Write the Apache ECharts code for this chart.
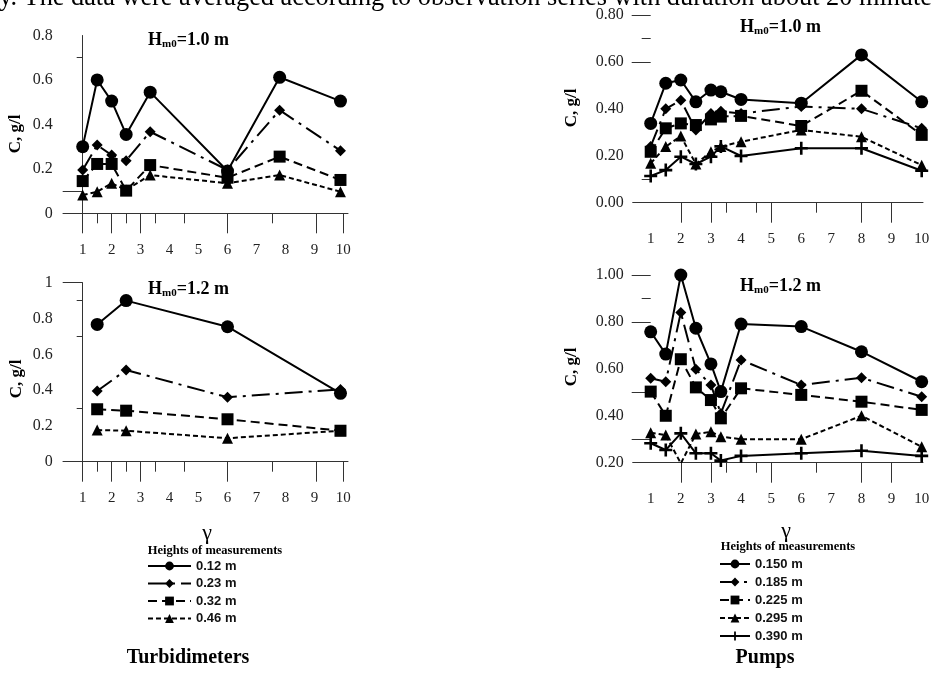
<!DOCTYPE html>
<html><head><meta charset="utf-8">
<script src="https://cdn.jsdelivr.net/npm/echarts@6/dist/echarts.min.js"></script>
<style>html,body{margin:0;padding:0;background:#fff}#c{width:933px;height:684px}</style>
</head><body><div id="c"></div>
<script>
// ---------------- data ----------------
const turbNames = ['0.12 m', '0.23 m', '0.32 m', '0.46 m'];
const pumpNames = ['0.150 m', '0.185 m', '0.225 m', '0.295 m', '0.390 m'];

// Turbidimeters, Hm0 = 1.0 m
const gammaTurbH10 = [1, 1.5, 2, 2.5, 3.33, 6, 7.8, 9.9];
const turbH10_012 = [0.30, 0.60, 0.505, 0.355, 0.545, 0.19, 0.612, 0.505];
const turbH10_023 = [0.195, 0.307, 0.262, 0.237, 0.367, 0.195, 0.464, 0.282];
const turbH10_032 = [0.145, 0.222, 0.222, 0.102, 0.217, 0.16, 0.255, 0.15];
const turbH10_046 = [0.082, 0.097, 0.135, 0.105, 0.172, 0.135, 0.172, 0.097];

// Turbidimeters, Hm0 = 1.2 m
const gammaTurbH12 = [1.5, 2.5, 6, 9.9];
const turbH12_012 = [0.767, 0.90, 0.754, 0.382];
const turbH12_023 = [0.395, 0.512, 0.36, 0.404];
const turbH12_032 = [0.293, 0.285, 0.237, 0.173];
const turbH12_046 = [0.177, 0.173, 0.131, 0.173];

// Pumps (both wave heights)
const gammaPumps = [1, 1.5, 2, 2.5, 3, 3.33, 4, 6, 8, 10];
const pumpH10_150 = [0.338, 0.509, 0.523, 0.43, 0.48, 0.473, 0.44, 0.424, 0.63, 0.43];
const pumpH10_185 = [0.24, 0.40, 0.437, 0.31, 0.38, 0.39, 0.38, 0.41, 0.40, 0.317];
const pumpH10_225 = [0.217, 0.317, 0.338, 0.331, 0.355, 0.367, 0.37, 0.327, 0.477, 0.289];
const pumpH10_295 = [0.168, 0.239, 0.284, 0.165, 0.217, 0.239, 0.26, 0.31, 0.281, 0.16];
const pumpH10_390 = [0.114, 0.139, 0.196, 0.165, 0.196, 0.24, 0.199, 0.232, 0.232, 0.136];

const pumpH12_150 = [0.758, 0.663, 1.0, 0.773, 0.621, 0.503, 0.791, 0.78, 0.673, 0.545];
const pumpH12_185 = [0.56, 0.545, 0.84, 0.598, 0.531, 0.41, 0.638, 0.531, 0.562, 0.481];
const pumpH12_225 = [0.503, 0.40, 0.641, 0.521, 0.467, 0.389, 0.517, 0.489, 0.46, 0.425];
const pumpH12_295 = [0.328, 0.318, 0.197, 0.322, 0.332, 0.311, 0.30, 0.30, 0.40, 0.268];
const pumpH12_390 = [0.283, 0.254, 0.325, 0.24, 0.24, 0.209, 0.229, 0.24, 0.251, 0.229];

// tick labels / tick marks
const xTickLabels = [1, 2, 3, 4, 5, 6, 7, 8, 9, 10];
const yLabelsTurbH10 = [0, 0.2, 0.4, 0.6, 0.8];
const yLabelsTurbH12 = [0, 0.2, 0.4, 0.6, 0.8, 1];
const yLabelsPumpH10 = [0, 0.2, 0.4, 0.6, 0.8];
const yLabelsPumpH12 = [0.2, 0.4, 0.6, 0.8, 1.0];
const xTicksLongTurb = [1, 2, 3, 6, 9.05, 10];
const xTicksShortTurb = [1.5, 2.5, 3.5, 4.5, 7.55];
const xTicksLongPump = [2, 3, 5, 8, 9];
const xTicksShortPump = [3.5, 4.5, 6.5];

// ---------------- rendering ----------------
const SERIF = '"Liberation Serif","Times New Roman",serif';
const SANS = '"Liberation Sans",Arial,sans-serif';
const INK = '#000';
const AXIS = '#333';
const LABEL = '#222';

const crossPath = 'path://M4,0h2v4h4v2h-4v4h-2v-4h-4v-2h4z';
const styles = [
  {symbol: 'circle', size: 13, dash: 'solid', w: 2},
  {symbol: 'diamond', size: 11, dash: [18, 6, 3, 6], w: 2},
  {symbol: 'rect', size: 12, dash: [9, 5], w: 2},
  {symbol: 'triangle', size: 11, dash: [5, 3], w: 2},
  {symbol: crossPath, size: 13, dash: 'solid', w: 2}
];

const fmtPlain = v => String(v);
const fmt2 = v => v.toFixed(2);

const panels = [
  {grid: {left: 63, top: 35.5, width: 285, height: 177.8}, x: [0.32, 10.16], y: [0, 0.8], yOffset: -19.7, yLine: true,
   yLabels: yLabelsTurbH10, yLong: [0.1], yShort: [0.7], yLongLen: 20, yShortLen: 6, yMargin: 30,
   xLong: xTicksLongTurb, xShort: xTicksShortTurb, fmt: fmtPlain},
  {grid: {left: 63, top: 282.7, width: 285, height: 179}, x: [0.32, 10.16], y: [0, 1], yOffset: -19.7, yLine: true,
   yLabels: yLabelsTurbH12, yLong: [1], yShort: [0.3, 0.7, 0.9], yLongLen: 20, yShortLen: 6, yMargin: 30,
   xLong: xTicksLongTurb, xShort: xTicksShortTurb, fmt: fmtPlain},
  {grid: {left: 632.7, top: 15, width: 290.3, height: 187.7}, x: [0.402, 10.043], y: [0, 0.8], yOffset: -18, yLine: false,
   yLabels: yLabelsPumpH10, yLong: [0.6, 0.8], yShort: [0.1, 0.7], yLongLen: 19, yShortLen: 9, yMargin: 27,
   xLong: xTicksLongPump, xShort: xTicksShortPump, fmt: fmt2},
  {grid: {left: 632.7, top: 275, width: 290.3, height: 187.7}, x: [0.402, 10.043], y: [0.2, 1.0], yOffset: -18, yLine: false,
   yLabels: yLabelsPumpH12, yLong: [0.3, 0.5, 0.8, 1.0], yShort: [0.9], yLongLen: 19, yShortLen: 9, yMargin: 27,
   xLong: xTicksLongPump, xShort: xTicksShortPump, fmt: fmt2}
];

const grid = [], xAxis = [], yAxis = [];
panels.forEach((p, i) => {
  grid.push(Object.assign({containLabel: false}, p.grid));
  xAxis.push({type: 'value', gridIndex: i, position: 'bottom', min: p.x[0], max: p.x[1],
    axisLine: {show: true, onZero: false, lineStyle: {color: AXIS, width: 1}},
    axisTick: {show: true, customValues: p.xLong, length: 20, lineStyle: {color: AXIS, width: 1}},
    axisLabel: {show: true, customValues: xTickLabels, margin: 29, fontFamily: SERIF, fontSize: 15, color: LABEL},
    splitLine: {show: false}});
  xAxis.push({type: 'value', gridIndex: i, position: 'bottom', min: p.x[0], max: p.x[1],
    axisLine: {show: false, onZero: false},
    axisTick: {show: true, customValues: p.xShort, length: 10, lineStyle: {color: AXIS, width: 1}},
    axisLabel: {show: false}, splitLine: {show: false}});
  yAxis.push({type: 'value', gridIndex: i, position: 'left', offset: p.yOffset, min: p.y[0], max: p.y[1],
    axisLine: {show: p.yLine, onZero: false, lineStyle: {color: AXIS, width: 1}},
    axisTick: {show: true, customValues: p.yLong, length: p.yLongLen, lineStyle: {color: AXIS, width: 1}},
    axisLabel: {show: true, customValues: p.yLabels, margin: p.yMargin, formatter: p.fmt, fontFamily: SERIF, fontSize: 16, color: LABEL},
    splitLine: {show: false}});
  yAxis.push({type: 'value', gridIndex: i, position: 'left', offset: p.yOffset, min: p.y[0], max: p.y[1],
    axisLine: {show: false, onZero: false},
    axisTick: {show: true, customValues: p.yShort, length: p.yShortLen, lineStyle: {color: AXIS, width: 1}},
    axisLabel: {show: false}, splitLine: {show: false}});
});

function mk(name, panel, xs, ys, k) {
  const st = styles[k];
  return {type: 'line', name: name, xAxisIndex: panel * 2, yAxisIndex: panel * 2,
    data: xs.map((x, j) => [x, ys[j]]),
    symbol: st.symbol, symbolSize: st.size, showSymbol: true,
    lineStyle: {color: INK, width: st.w, type: st.dash},
    itemStyle: {color: INK}, emphasis: {disabled: true}, z: 5 - k};
}

const series = [
  mk(turbNames[0], 0, gammaTurbH10, turbH10_012, 0),
  mk(turbNames[1], 0, gammaTurbH10, turbH10_023, 1),
  mk(turbNames[2], 0, gammaTurbH10, turbH10_032, 2),
  mk(turbNames[3], 0, gammaTurbH10, turbH10_046, 3),
  mk(turbNames[0], 1, gammaTurbH12, turbH12_012, 0),
  mk(turbNames[1], 1, gammaTurbH12, turbH12_023, 1),
  mk(turbNames[2], 1, gammaTurbH12, turbH12_032, 2),
  mk(turbNames[3], 1, gammaTurbH12, turbH12_046, 3),
  mk(pumpNames[0], 2, gammaPumps, pumpH10_150, 0),
  mk(pumpNames[1], 2, gammaPumps, pumpH10_185, 1),
  mk(pumpNames[2], 2, gammaPumps, pumpH10_225, 2),
  mk(pumpNames[3], 2, gammaPumps, pumpH10_295, 3),
  mk(pumpNames[4], 2, gammaPumps, pumpH10_390, 4),
  mk(pumpNames[0], 3, gammaPumps, pumpH12_150, 0),
  mk(pumpNames[1], 3, gammaPumps, pumpH12_185, 1),
  mk(pumpNames[2], 3, gammaPumps, pumpH12_225, 2),
  mk(pumpNames[3], 3, gammaPumps, pumpH12_295, 3),
  mk(pumpNames[4], 3, gammaPumps, pumpH12_390, 4)
];

const legendText = {fontFamily: SANS, fontWeight: 'bold', fontSize: 13, color: '#111'};
const legend = [
  {data: turbNames, orient: 'vertical', left: 147, top: 559.5, itemWidth: 43, itemHeight: 11, itemGap: 4.5,
   padding: 0, selectedMode: false, textStyle: legendText},
  {data: pumpNames, orient: 'vertical', left: 719, top: 557.5, itemWidth: 30, itemHeight: 11, itemGap: 5,
   padding: 0, selectedMode: false, textStyle: legendText}
];

function txt(x, y, text, font) {
  return {type: 'text', x: x, y: y, silent: true,
    style: {text: text, font: font, fill: '#000', align: 'center', verticalAlign: 'middle'}};
}
function hTitle(x, y, val) {
  return {type: 'text', x: x, y: y, silent: true,
    style: {text: '{a|H}{s|m0}{a|=' + val + '}', align: 'left', verticalAlign: 'middle', fill: '#000',
      rich: {a: {fontFamily: SERIF, fontWeight: 'bold', fontSize: 18, lineHeight: 20, fill: '#000'},
             s: {fontFamily: SERIF, fontWeight: 'bold', fontSize: 11, lineHeight: 10, verticalAlign: 'bottom', fill: '#000'}}}};
}
function yName(x, y) {
  return {type: 'text', x: x, y: y, rotation: Math.PI / 2, silent: true,
    style: {text: 'C, g/l', font: 'bold 17px ' + SERIF, fill: '#000', align: 'center', verticalAlign: 'middle'}};
}

const graphic = [
  {type: 'text', x: -1, y: -2, silent: true,
   style: {text: 'y. The data were averaged according to observation series with duration about 20 minutes',
     font: '26.3px ' + SERIF, fill: '#000', align: 'left', verticalAlign: 'middle'}},
  hTitle(148, 40, '1.0 m'),
  hTitle(148, 289, '1.2 m'),
  hTitle(740, 27, '1.0 m'),
  hTitle(740, 286, '1.2 m'),
  yName(16, 134), yName(17, 379), yName(572, 108), yName(572, 367),
  txt(207, 533, 'γ', '22px ' + SERIF),
  txt(786, 531, 'γ', '22px ' + SERIF),
  txt(215, 551, 'Heights of measurements', 'bold 12.5px ' + SERIF),
  txt(788, 547, 'Heights of measurements', 'bold 12.5px ' + SERIF),
  txt(188, 658, 'Turbidimeters', 'bold 20px ' + SERIF),
  txt(765, 658, 'Pumps', 'bold 20px ' + SERIF)
];

const chart = echarts.init(document.getElementById('c'), null, {renderer: 'canvas'});
chart.setOption({animation: false, backgroundColor: '#fff', grid, xAxis, yAxis, series, legend, graphic});
</script></body></html>
